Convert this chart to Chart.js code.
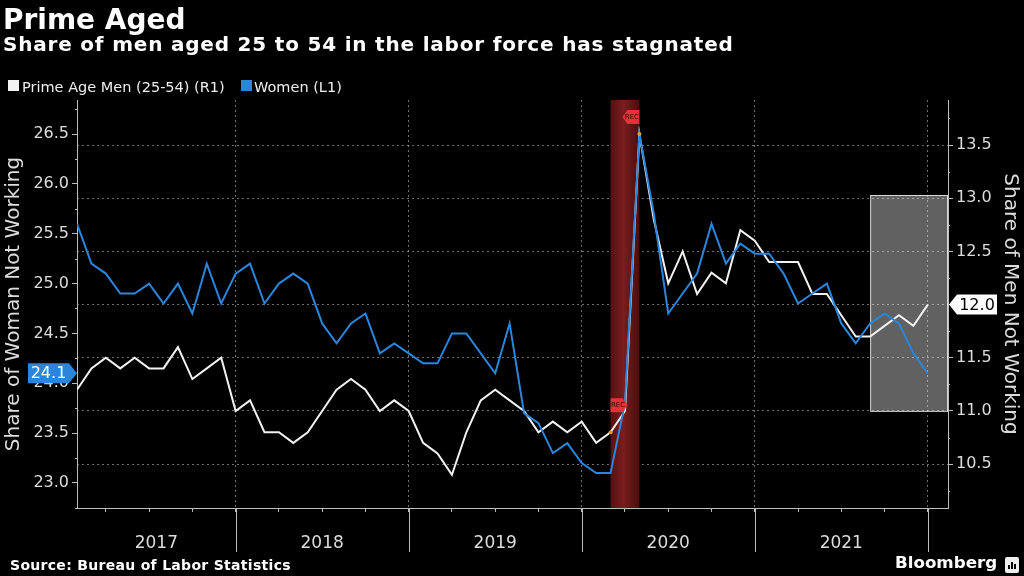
<!DOCTYPE html>
<html>
<head>
<meta charset="utf-8">
<script src="https://cdn.jsdelivr.net/npm/chart.js@4.4.1/dist/chart.umd.min.js"></script>
<style>
  html, body { margin: 0; padding: 0; background: #000; }
  #wrap { position: relative; width: 1024px; height: 576px; overflow: hidden; background: #000;
          font-family: "DejaVu Sans", sans-serif; color: #fff; }
  #chart { position: absolute; left: 0; top: 0; }
  .t { position: absolute; white-space: nowrap; line-height: 1; }
  #title { left: 3px; top: 6px; font-size: 28px; font-weight: bold; }
  #subtitle { left: 3px; top: 34px; font-size: 20px; font-weight: bold; letter-spacing: 0.8px; }
  .sw { position: absolute; width: 11px; height: 11px; top: 80px; }
  .lg { top: 80px; font-size: 14.5px; color: #eee; }
  #source { left: 10px; top: 558px; font-size: 14px; font-weight: bold; letter-spacing: 0.3px; }
  #brand { left: 895px; top: 554px; font-size: 16.7px; font-weight: bold; }
  #logo { position: absolute; left: 1005px; top: 557px; width: 14px; height: 16px; background: #eee; border-radius: 2px; }
  #logo i { position: absolute; bottom: 4px; width: 2px; background: #000; }
</style>
</head>
<body>
<div id="wrap">
  <canvas id="chart" width="1024" height="576"></canvas>
  <div class="t" id="title">Prime Aged</div>
  <div class="t" id="subtitle">Share of men aged 25 to 54 in the labor force has stagnated</div>
  <div class="sw" style="left:8px;background:#f2f2f2"></div>
  <div class="t lg" style="left:22px">Prime Age Men (25-54) (R1)</div>
  <div class="sw" style="left:241px;background:#2a86dc"></div>
  <div class="t lg" style="left:254px">Women (L1)</div>
  <div class="t" id="source">Source: Bureau of Labor Statistics</div>
  <div class="t" id="brand">Bloomberg</div>
  <div id="logo"><i style="left:3px;height:4px"></i><i style="left:6px;height:7px"></i><i style="left:9px;height:5px"></i></div>
</div>
<script>
// monthly, Jan 2017 .. Dec 2021 (index 0..59)
const years = ["2017", "2018", "2019", "2020", "2021"];
const yearEnds = [11, 23, 35, 47, 59];
const quarterTicks = [2, 5, 8, 11, 14, 17, 20, 23, 26, 29, 32, 35, 38, 41, 44, 47, 50, 53, 56, 59];

const womenNotWorking = [
    25.6, 25.2, 25.1, 24.9, 24.9, 25.0, 24.8, 25.0, 24.7, 25.2, 24.8, 25.1,
    25.2, 24.8, 25.0, 25.1, 25.0, 24.6, 24.4, 24.6, 24.7, 24.3, 24.4, 24.3,
    24.2, 24.2, 24.5, 24.5, 24.3, 24.1, 24.6, 23.7, 23.6, 23.3, 23.4, 23.2,
    23.1, 23.1, 23.8, 26.5, 25.7, 24.7, 24.9, 25.1, 25.6, 25.2, 25.4, 25.3,
    25.3, 25.1, 24.8, 24.9, 25.0, 24.6, 24.4, 24.6, 24.7, 24.6, 24.3, 24.1,
];
const menNotWorking = [
    11.2, 11.4, 11.5, 11.4, 11.5, 11.4, 11.4, 11.6, 11.3, 11.4, 11.5, 11.0,
    11.1, 10.8, 10.8, 10.7, 10.8, 11.0, 11.2, 11.3, 11.2, 11.0, 11.1, 11.0,
    10.7, 10.6, 10.4, 10.8, 11.1, 11.2, 11.1, 11.0, 10.8, 10.9, 10.8, 10.9,
    10.7, 10.8, 11.0, 13.6, 12.8, 12.2, 12.5, 12.1, 12.3, 12.2, 12.7, 12.6,
    12.4, 12.4, 12.4, 12.1, 12.1, 11.9, 11.7, 11.7, 11.8, 11.9, 11.8, 12.0,
];

const leftTicks = [23.0, 23.5, 24.0, 24.5, 25.0, 25.5, 26.0, 26.5];
const leftMinor = [22.75, 23.25, 23.75, 24.25, 24.75, 25.25, 25.75, 26.25, 26.75];
const rightTicks = [10.5, 11.0, 11.5, 12.0, 12.5, 13.0, 13.5];
const rightMinor = [10.25, 10.75, 11.25, 11.75, 12.25, 12.75, 13.25, 13.75];

const recession = [37, 39];           // Feb 2020 .. Apr 2020
const highlight = [55, 11.0, 13.03];  // from month index, men range

const WHITE = "#f2f2f2";
const BLUE = "#2a86dc";
const AXIS = "#bdbdbd";
const LABEL = "#dcdcdc";

Chart.defaults.font.family = '"DejaVu Sans", sans-serif';
Chart.defaults.color = LABEL;

function tag(ctx, tipX, y, bodyX0, bodyX1, dir, fill, text, textColor) {
    const h = 20;
    ctx.save();
    ctx.fillStyle = fill;
    ctx.beginPath();
    if (dir > 0) {
        ctx.moveTo(bodyX0, y - h / 2);
        ctx.lineTo(bodyX1, y - h / 2);
        ctx.lineTo(tipX, y);
        ctx.lineTo(bodyX1, y + h / 2);
        ctx.lineTo(bodyX0, y + h / 2);
    } else {
        ctx.moveTo(bodyX1, y - h / 2);
        ctx.lineTo(bodyX0, y - h / 2);
        ctx.lineTo(tipX, y);
        ctx.lineTo(bodyX0, y + h / 2);
        ctx.lineTo(bodyX1, y + h / 2);
    }
    ctx.closePath();
    ctx.fill();
    ctx.fillStyle = textColor;
    ctx.font = '16px "DejaVu Sans"';
    ctx.textAlign = "center";
    ctx.textBaseline = "middle";
    ctx.fillText(text, (bodyX0 + bodyX1) / 2, y + 1);
    ctx.restore();
}

function recFlag(ctx, x, y, dir) {
    const w = 17, h = 14;
    ctx.save();
    ctx.fillStyle = "#e8303a";
    ctx.beginPath();
    if (dir > 0) {
        ctx.moveTo(x, y - h / 2);
        ctx.lineTo(x + w - 5, y - h / 2);
        ctx.lineTo(x + w, y);
        ctx.lineTo(x + w - 5, y + h / 2);
        ctx.lineTo(x, y + h / 2);
    } else {
        ctx.moveTo(x, y - h / 2);
        ctx.lineTo(x - w + 5, y - h / 2);
        ctx.lineTo(x - w, y);
        ctx.lineTo(x - w + 5, y + h / 2);
        ctx.lineTo(x, y + h / 2);
    }
    ctx.closePath();
    ctx.fill();
    ctx.fillStyle = "#3a0000";
    ctx.font = '7px "DejaVu Sans"';
    ctx.textAlign = "center";
    ctx.textBaseline = "middle";
    ctx.fillText("REC", x + dir * (w / 2 - 1), y);
    ctx.restore();
}

const overlays = {
    id: "overlays",
    beforeDatasetsDraw(chart) {
        const { ctx, chartArea: a, scales } = chart;
        const x = scales.x, yR = scales.yR;
        // recession band
        const r0 = x.getPixelForValue(recession[0]);
        const r1 = x.getPixelForValue(recession[1]);
        const g = ctx.createLinearGradient(r0, 0, r1, 0);
        g.addColorStop(0, "#561111");
        g.addColorStop(0.45, "#7a1d1d");
        g.addColorStop(1, "#4a0d0d");
        ctx.save();
        ctx.fillStyle = g;
        ctx.fillRect(r0, a.top, r1 - r0, a.bottom - a.top);
        // highlight box
        const bx = x.getPixelForValue(highlight[0]);
        const by0 = yR.getPixelForValue(highlight[2]);
        const by1 = yR.getPixelForValue(highlight[1]);
        ctx.fillStyle = "rgba(255,255,255,0.38)";
        ctx.fillRect(bx, by0, a.right - bx, by1 - by0);
        ctx.strokeStyle = "rgba(255,255,255,0.75)";
        ctx.lineWidth = 1;
        ctx.strokeRect(bx + 0.5, by0 + 0.5, a.right - bx - 1, by1 - by0);
        ctx.restore();
    },
    afterDraw(chart) {
        const { ctx, chartArea: a, scales } = chart;
        const x = scales.x, yL = scales.yL, yR = scales.yR;
        ctx.save();
        // minor ticks
        ctx.strokeStyle = AXIS;
        ctx.lineWidth = 1;
        ctx.beginPath();
        leftMinor.forEach((v) => {
            const py = Math.round(yL.getPixelForValue(v)) + 0.5;
            ctx.moveTo(a.left - 2, py);
            ctx.lineTo(a.left, py);
        });
        rightMinor.forEach((v) => {
            const py = Math.round(yR.getPixelForValue(v)) + 0.5;
            ctx.moveTo(a.right, py);
            ctx.lineTo(a.right + 2, py);
        });
        // year separators below axis
        yearEnds.forEach((m) => {
            const px = Math.round(x.getPixelForValue(m)) + 0.5;
            ctx.moveTo(px, a.bottom);
            ctx.lineTo(px, a.bottom + 44);
        });
        ctx.stroke();
        // year labels
        ctx.fillStyle = LABEL;
        ctx.font = '17px "DejaVu Sans"';
        ctx.textAlign = "center";
        ctx.textBaseline = "alphabetic";
        years.forEach((yr, k) => {
            const x0 = k === 0 ? a.left : x.getPixelForValue(yearEnds[k - 1]);
            const x1 = x.getPixelForValue(yearEnds[k]);
            ctx.fillText(yr, (x0 + x1) / 2, a.bottom + 40);
        });
        ctx.restore();

        // recession markers
        const d0x = x.getPixelForValue(recession[0]);
        const d0y = yR.getPixelForValue(menNotWorking[recession[0]]);
        const d1x = x.getPixelForValue(recession[1]);
        const d1y = yL.getPixelForValue(womenNotWorking[recession[1]]);
        ctx.save();
        ctx.fillStyle = "#e39a2d";
        [[d0x, d0y], [d1x, d1y]].forEach(([px, py]) => {
            ctx.beginPath();
            ctx.arc(px, py, 2, 0, Math.PI * 2);
            ctx.fill();
        });
        ctx.restore();
        recFlag(ctx, d0x, d0y - 27, 1);
        recFlag(ctx, d1x, d1y - 17, -1);

        // last value tags
        const last = womenNotWorking.length - 1;
        tag(ctx, a.left, yL.getPixelForValue(womenNotWorking[last]), 28, 69, 1,
            BLUE, womenNotWorking[last].toFixed(1), "#ffffff");
        tag(ctx, a.right + 1, yR.getPixelForValue(menNotWorking[last]), 957, 997, -1,
            "#ffffff", menNotWorking[last].toFixed(1), "#000000");
    },
};

new Chart(document.getElementById("chart"), {
    type: "line",
    data: {
        datasets: [
            {
                label: "Prime Age Men (25-54) (R1)",
                data: menNotWorking.map((v, i) => ({ x: i, y: v })),
                yAxisID: "yR",
                borderColor: WHITE,
                borderWidth: 2,
                pointRadius: 0,
                tension: 0,
                order: 2,
            },
            {
                label: "Women (L1)",
                data: womenNotWorking.map((v, i) => ({ x: i, y: v })),
                yAxisID: "yL",
                borderColor: BLUE,
                borderWidth: 2,
                pointRadius: 0,
                tension: 0,
                order: 1,
            },
        ],
    },
    options: {
        responsive: false,
        animation: false,
        layout: { padding: { top: 100, left: 0, right: 0, bottom: 0 } },
        plugins: { legend: { display: false }, tooltip: { enabled: false } },
        scales: {
            x: {
                type: "linear",
                min: 0,
                max: 60.4,
                afterFit(s) { s.height = 68; },
                afterBuildTicks(s) { s.ticks = quarterTicks.map((v) => ({ value: v })); },
                ticks: { display: false },
                grid: {
                    color: (c) => (c.tick && yearEnds.includes(c.tick.value) ? "rgba(200,200,200,0.55)" : "rgba(0,0,0,0)"),
                    tickColor: AXIS,
                    tickLength: 4,
                    lineWidth: 1,
                },
                border: { color: AXIS, width: 1, dash: [2, 3] },
            },
            yL: {
                position: "left",
                min: 22.749,
                max: 26.841,
                afterFit(s) { s.width = 77; },
                afterBuildTicks(s) { s.ticks = leftTicks.map((v) => ({ value: v })); },
                ticks: { color: LABEL, font: { size: 16 }, padding: 3, callback: (v) => v.toFixed(1) },
                grid: { drawOnChartArea: false, tickColor: AXIS, tickLength: 5 },
                border: { color: AXIS, width: 1 },
                title: {
                    display: true,
                    text: "Share of Woman Not Working",
                    color: LABEL,
                    font: { size: 20 },
                    padding: { top: 2, bottom: 0 },
                },
            },
            yR: {
                position: "right",
                min: 10.088,
                max: 13.923,
                afterFit(s) { s.width = 76; },
                afterBuildTicks(s) { s.ticks = rightTicks.map((v) => ({ value: v })); },
                ticks: { color: LABEL, font: { size: 16 }, padding: 3, callback: (v) => v.toFixed(1) },
                grid: { color: "rgba(200,200,200,0.55)", tickColor: AXIS, tickLength: 5, lineWidth: 1 },
                border: { color: AXIS, width: 1, dash: [2, 3] },
                title: {
                    display: true,
                    text: "Share of Men Not Working",
                    color: LABEL,
                    font: { size: 20 },
                    padding: { top: 2, bottom: 0 },
                },
            },
        },
    },
    plugins: [overlays],
});
</script>
</body>
</html>
